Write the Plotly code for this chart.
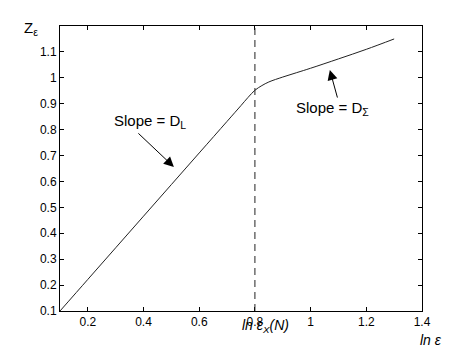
import plotly.graph_objects as go

# data
ln_eps = [0.1, 0.2, 0.3, 0.4, 0.5, 0.6, 0.7, 0.75, 0.775, 0.8, 0.825, 0.85, 0.9, 0.95, 1.0, 1.1, 1.2, 1.3]
z_eps = [0.1, 0.222, 0.344, 0.466, 0.588, 0.71, 0.832, 0.893, 0.924, 0.952, 0.97, 0.984, 1.003, 1.02, 1.037, 1.073, 1.11, 1.15]
knee_x = 0.8
x_ticks = [0.2, 0.4, 0.6, 0.8, 1.0, 1.2, 1.4]
x_ticklabels = ["0.2", "0.4", "0.6", "0.8", "1", "1.2", "1.4"]
y_ticks = [0.1, 0.2, 0.3, 0.4, 0.5, 0.6, 0.7, 0.8, 0.9, 1.0, 1.1, 1.2]
y_ticklabels = ["0.1", "0.2", "0.3", "0.4", "0.5", "0.6", "0.7", "0.8", "0.9", "1", "1.1", ""]

FONT = "Liberation Sans, Arial, Helvetica, sans-serif"

fig = go.Figure()
fig.add_trace(go.Scatter(x=ln_eps, y=z_eps, mode="lines",
                         line=dict(color="#222222", width=1), line_shape="spline",
                         hoverinfo="skip", showlegend=False))
fig.add_shape(type="line", x0=knee_x, x1=knee_x, y0=0, y1=1, xref="x", yref="paper",
              line=dict(color="#222222", width=1, dash="7px,5px"))

ann = []
# arrows
ann.append(dict(x=0.509, y=0.656, xref="x", yref="y", text="", showarrow=True,
                ax=-37, ay=-35, arrowhead=2, arrowsize=2, arrowwidth=1, arrowcolor="black"))
ann.append(dict(x=1.069, y=1.03, xref="x", yref="y", text="", showarrow=True,
                ax=8, ay=29, arrowhead=2, arrowsize=2, arrowwidth=1, arrowcolor="black"))
# texts
ann.append(dict(x=0.423, y=0.83, xref="x", yref="y", text="Slope = D<sub>L</sub>",
                showarrow=False, font=dict(size=15, family=FONT, color="black")))
ann.append(dict(x=1.08, y=0.88, xref="x", yref="y", text="Slope = D<sub>Σ</sub>",
                showarrow=False, font=dict(size=15, family=FONT, color="black")))
ann.append(dict(x=-0.105, y=1.03, xref="paper", yref="paper", text="Z<sub>ε</sub>",
                xanchor="left", yanchor="top", showarrow=False,
                font=dict(size=15, family=FONT, color="black")))
ann.append(dict(x=0.99, y=-0.068, xref="paper", yref="paper", text="<i>ln ε</i>",
                xanchor="left", yanchor="top", showarrow=False,
                font=dict(size=14, family=FONT, color="black")))
ann.append(dict(x=0.497, y=-0.014, xref="paper", yref="paper", text="<i>ln ε<sub>X</sub>(N)</i>",
                xanchor="left", yanchor="top", showarrow=False,
                font=dict(size=14, family=FONT, color="black")))

fig.update_layout(
    width=466, height=350,
    margin=dict(l=52, r=52, t=18, b=47),
    paper_bgcolor="white", plot_bgcolor="white",
    font=dict(family=FONT, size=12, color="black"),
    annotations=ann,
    xaxis=dict(range=[0.1, 1.4], tickvals=x_ticks, ticktext=x_ticklabels,
               ticks="inside", ticklen=4, tickcolor="black", showline=True, linecolor="black",
               linewidth=1, mirror="ticks", showgrid=False, zeroline=False),
    yaxis=dict(range=[0.1, 1.2], tickvals=y_ticks, ticktext=y_ticklabels,
               ticks="inside", ticklen=4, tickcolor="black", showline=True, linecolor="black",
               linewidth=1, mirror="ticks", showgrid=False, zeroline=False),
)
fig.write_html("out.html")
